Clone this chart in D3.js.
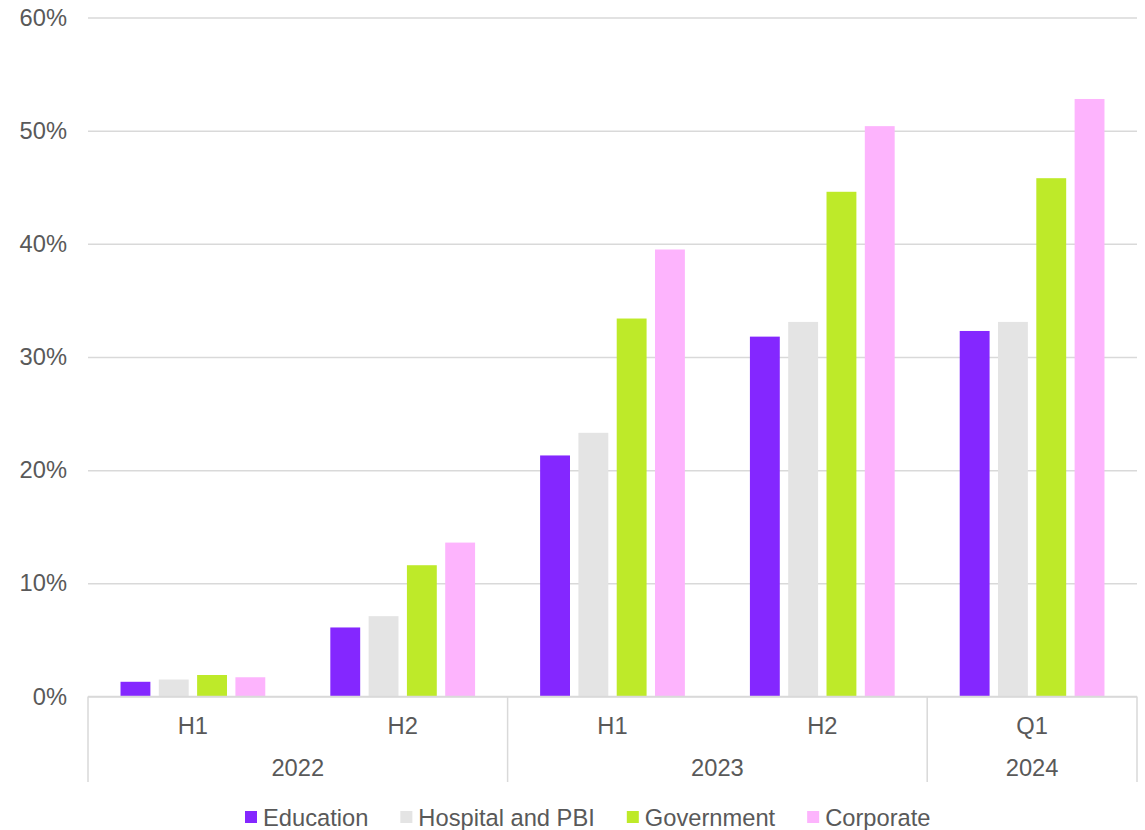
<!DOCTYPE html>
<html>
<head>
<meta charset="utf-8">
<script src="https://cdn.jsdelivr.net/npm/d3@7"></script>
<style>
  body { margin: 0; background: #fff; }
  svg { display: block; font-family: "Liberation Sans", Arial, sans-serif; }
</style>
</head>
<body>
<svg id="chart" width="1145" height="830"></svg>
<script>
// values (percent)
const periods = ['H1', 'H2', 'H1', 'H2', 'Q1']
const years = ['2022', '2022', '2023', '2023', '2024']
const seriesNames = ['Education', 'Hospital and PBI', 'Government', 'Corporate']
const education = [1.3, 6.1, 21.3, 31.8, 32.3]
const hospital = [1.5, 7.1, 23.3, 33.1, 33.1]
const government = [1.9, 11.6, 33.4, 44.6, 45.8]
const corporate = [1.7, 13.6, 39.5, 50.4, 52.8]
const colors = ['#8427ff', '#e4e4e4', '#beea29', '#fdb4fd']
const yTicks = [0, 10, 20, 30, 40, 50, 60]

const seriesValues = [education, hospital, government, corporate]
const textColor = '#595959'
const gridColor = '#d9d9d9'
const fontSize = 23.7

const svg = d3.select('#chart')
const plotLeft = 88, plotRight = 1137, plotTop = 17.5, plotBottom = 696.5

const idx = d3.range(periods.length)
const xCat = d3.scaleBand().domain(idx).range([plotLeft, plotRight])
const x0 = d3.scaleBand().domain(idx).range([plotLeft, plotRight])
  .paddingInner(0.31).paddingOuter(0.155)
const x1 = d3.scaleBand().domain(seriesNames).range([0, x0.bandwidth()]).paddingInner(0.22)
const y = d3.scaleLinear().domain([0, 60]).range([plotBottom, plotTop])

// gridlines + y labels
const yAxis = svg.append('g')
  .attr('transform', `translate(${plotLeft},0)`)
  .call(d3.axisLeft(y).tickValues(yTicks).tickSize(-(plotRight - plotLeft)).tickPadding(21).tickFormat(d => d + '%'))
yAxis.select('.domain').remove()
yAxis.selectAll('.tick line').attr('stroke', gridColor).attr('stroke-width', 1.5)
yAxis.selectAll('.tick text')
  .attr('fill', textColor).style('font-size', fontSize + 'px')
  .style('font-family', '"Liberation Sans", Arial, sans-serif')

// bars
const groups = svg.append('g').selectAll('g')
  .data(idx)
  .join('g')
  .attr('transform', i => `translate(${x0(i)},0)`)

groups.selectAll('rect')
  .data(i => seriesNames.map((s, k) => ({ s, k, v: seriesValues[k][i] })))
  .join('rect')
  .attr('x', d => x1(d.s))
  .attr('width', x1.bandwidth())
  .attr('y', d => y(d.v))
  .attr('height', d => y(0) - y(d.v))
  .attr('fill', d => colors[d.k])

// category axis (two levels)
const axisG = svg.append('g')
axisG.append('line')
  .attr('x1', plotLeft).attr('x2', plotRight)
  .attr('y1', y(0)).attr('y2', y(0))
  .attr('stroke', gridColor).attr('stroke-width', 1.5)

axisG.selectAll('.period')
  .data(idx)
  .join('text')
  .attr('class', 'period')
  .attr('x', i => xCat(i) + xCat.bandwidth() / 2)
  .attr('y', 734)
  .attr('text-anchor', 'middle')
  .attr('fill', textColor)
  .style('font-size', fontSize + 'px')
  .text(i => periods[i])

const yearGroups = d3.groups(idx, i => years[i]).map(([yr, is]) => ({
  yr,
  x0: xCat(is[0]),
  x1: xCat(is[is.length - 1]) + xCat.bandwidth()
}))

const bounds = [plotLeft].concat(yearGroups.map(g => g.x1))
axisG.selectAll('.sep')
  .data(bounds)
  .join('line')
  .attr('class', 'sep')
  .attr('x1', d => d).attr('x2', d => d)
  .attr('y1', y(0)).attr('y2', 782)
  .attr('stroke', gridColor).attr('stroke-width', 1.5)

axisG.selectAll('.year')
  .data(yearGroups)
  .join('text')
  .attr('class', 'year')
  .attr('x', d => (d.x0 + d.x1) / 2)
  .attr('y', 776)
  .attr('text-anchor', 'middle')
  .attr('fill', textColor)
  .style('font-size', fontSize + 'px')
  .text(d => d.yr)

// legend
const legend = svg.append('g').attr('transform', 'translate(245,811)')
let lx = 0
seriesNames.forEach((s, k) => {
  const item = legend.append('g').attr('transform', `translate(${lx},0)`)
  item.append('rect').attr('width', 12).attr('height', 12).attr('fill', colors[k])
  const t = item.append('text')
    .attr('x', 18).attr('y', 14.5)
    .attr('fill', textColor)
    .style('font-size', fontSize + 'px')
    .text(s)
  lx += 18 + t.node().getComputedTextLength() + 32
})
</script>
</body>
</html>
